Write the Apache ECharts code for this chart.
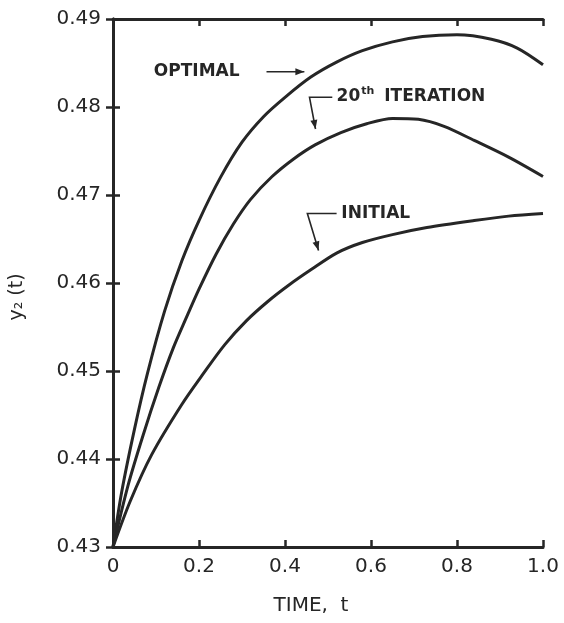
<!DOCTYPE html>
<html>
<head>
<meta charset="utf-8">
<script src="https://cdn.jsdelivr.net/npm/echarts@6/dist/echarts.min.js"></script>
<style>
  html, body { margin: 0; padding: 0; background: #fff; }
  #chart { width: 564px; height: 623px; }
</style>
</head>
<body>
<div id="chart"></div>
<script>
// values
const timeOptimal = [0, 0.02, 0.05, 0.08, 0.12, 0.16, 0.20, 0.25, 0.30, 0.35, 0.40, 0.46, 0.52, 0.58, 0.65, 0.72, 0.80, 0.88, 0.94, 1.0]
const y2Optimal = [0.430, 0.4362, 0.4434, 0.4497, 0.4568, 0.4625, 0.4671, 0.4720, 0.4760, 0.4789, 0.4811, 0.4834, 0.4851, 0.4864, 0.4874, 0.4880, 0.4882, 0.4877, 0.4867, 0.4848]

const time20th = [0, 0.035, 0.07, 0.107, 0.14, 0.17, 0.20, 0.24, 0.28, 0.32, 0.37, 0.42, 0.47, 0.53, 0.59, 0.65, 0.71, 0.77, 0.84, 0.92, 1.0]
const y220th = [0.430, 0.4370, 0.4427, 0.4482, 0.4526, 0.4560, 0.4593, 0.4633, 0.4667, 0.4695, 0.4721, 0.4741, 0.4757, 0.4771, 0.4781, 0.4787, 0.4786, 0.4778, 0.4762, 0.4743, 0.4721]

const timeInitial = [0, 0.04, 0.09, 0.16, 0.21, 0.26, 0.31, 0.36, 0.41, 0.46, 0.52, 0.58, 0.65, 0.73, 0.84, 0.92, 1.0]
const y2Initial = [0.430, 0.4352, 0.4405, 0.4462, 0.4497, 0.4530, 0.4557, 0.4579, 0.4598, 0.4615, 0.4634, 0.4646, 0.4655, 0.4663, 0.4671, 0.4676, 0.4679]

const xTicks = [0, 0.2, 0.4, 0.6, 0.8, 1.0]
const yTicks = [0.43, 0.44, 0.45, 0.46, 0.47, 0.48, 0.49]

const ink = '#262626'
const font = 'DejaVu Sans'

function pairs(xs, ys) {
  return xs.map((x, i) => [x, ys[i]])
}

function curve(name, xs, ys) {
  return {
    name: name,
    type: 'line',
    smooth: 0.3,
    symbol: 'none',
    data: pairs(xs, ys),
    lineStyle: { color: ink, width: 3 },
    animation: false
  }
}

const chart = echarts.init(document.getElementById('chart'))

const frameAxis = {
  type: 'value',
  axisLine: { show: true, lineStyle: { color: ink, width: 3 } },
  axisTick: { show: true, inside: true, length: 7, lineStyle: { color: ink, width: 2.5 } },
  splitLine: { show: false }
}

chart.setOption({
  backgroundColor: '#fff',
  grid: { left: 111, right: 21, top: 19, bottom: 76 },
  xAxis: [
    Object.assign({}, frameAxis, {
      position: 'bottom',
      min: 0, max: 1, interval: 0.2,
      name: 'TIME,  t',
      nameLocation: 'middle',
      nameGap: 49,
      nameTextStyle: { fontFamily: font, fontSize: 20, color: ink, padding: [0, 34, 0, 0] },
      axisLabel: {
        margin: 10, fontFamily: font, fontSize: 20, color: ink,
        formatter: v => {
          const hit = xTicks.find(t => Math.abs(t - v) < 1e-9)
          if (hit === undefined) return ''
          return hit === 0 ? '0' : hit.toFixed(1)
        }
      }
    }),
    Object.assign({}, frameAxis, {
      position: 'top',
      min: 0, max: 1, interval: 0.2,
      axisLabel: { show: false }
    })
  ],
  yAxis: [
    Object.assign({}, frameAxis, {
      position: 'left',
      min: 0.43, max: 0.49, interval: 0.01,
      name: 'y\u2082 (t)',
      nameLocation: 'middle',
      nameGap: 86,
      nameRotate: 90,
      nameTextStyle: { fontFamily: font, fontSize: 19, color: ink, padding: [0, 28, 0, 0] },
      axisLabel: {
        margin: 12, fontFamily: font, fontSize: 20, color: ink,
        formatter: v => {
          const hit = yTicks.find(t => Math.abs(t - v) < 1e-9)
          return hit === undefined ? '' : hit.toFixed(2)
        }
      }
    }),
    Object.assign({}, frameAxis, {
      position: 'right',
      min: 0.43, max: 0.49, interval: 0.01,
      axisLabel: { show: false }
    })
  ],
  series: [
    curve('OPTIMAL', timeOptimal, y2Optimal),
    curve('20th ITERATION', time20th, y220th),
    curve('INITIAL', timeInitial, y2Initial)
  ]
})

// annotations, placed in data coordinates
function px(p) {
  return chart.convertToPixel({ gridIndex: 0 }, p)
}

function head(tip, from) {
  const dx = tip[0] - from[0], dy = tip[1] - from[1]
  const len = Math.sqrt(dx * dx + dy * dy)
  const ux = dx / len, uy = dy / len
  const L = 9, W = 3.5
  const bx = tip[0] - ux * L, by = tip[1] - uy * L
  return {
    type: 'polygon',
    shape: { points: [tip, [bx - uy * W, by + ux * W], [bx + uy * W, by - ux * W]] },
    style: { fill: ink }
  }
}

function leader(pointsData) {
  const pts = pointsData.map(px)
  return [
    { type: 'polyline', shape: { points: pts }, style: { stroke: ink, lineWidth: 1.6, fill: null } },
    head(pts[pts.length - 1], pts[pts.length - 2])
  ]
}

function label(p, text, rich) {
  const q = px(p)
  return {
    type: 'text', x: q[0], y: q[1],
    style: {
      text: text, fill: ink, fontFamily: font, fontSize: 17, fontWeight: 'bold',
      verticalAlign: 'middle', align: 'left', rich: rich
    }
  }
}

const graphics = []
graphics.push(label([0.095, 0.4840], 'OPTIMAL'))
graphics.push(...leader([[0.357, 0.4840], [0.445, 0.4840]]))
graphics.push(label([0.520, 0.4812], '{n|20}{s|th} ITERATION', {
  n: { fontFamily: font, fontSize: 17, fontWeight: 'bold', fill: ink },
  s: { fontFamily: font, fontSize: 11, fontWeight: 'bold', fill: ink, verticalAlign: 'top', padding: [0, 4, 10, 1] }
}))
graphics.push(...leader([[0.510, 0.4811], [0.457, 0.4811], [0.471, 0.4775]]))
graphics.push(label([0.531, 0.4679], 'INITIAL'))
graphics.push(...leader([[0.520, 0.4679], [0.452, 0.4679], [0.478, 0.4637]]))

chart.setOption({ graphic: graphics })
</script>
</body>
</html>
